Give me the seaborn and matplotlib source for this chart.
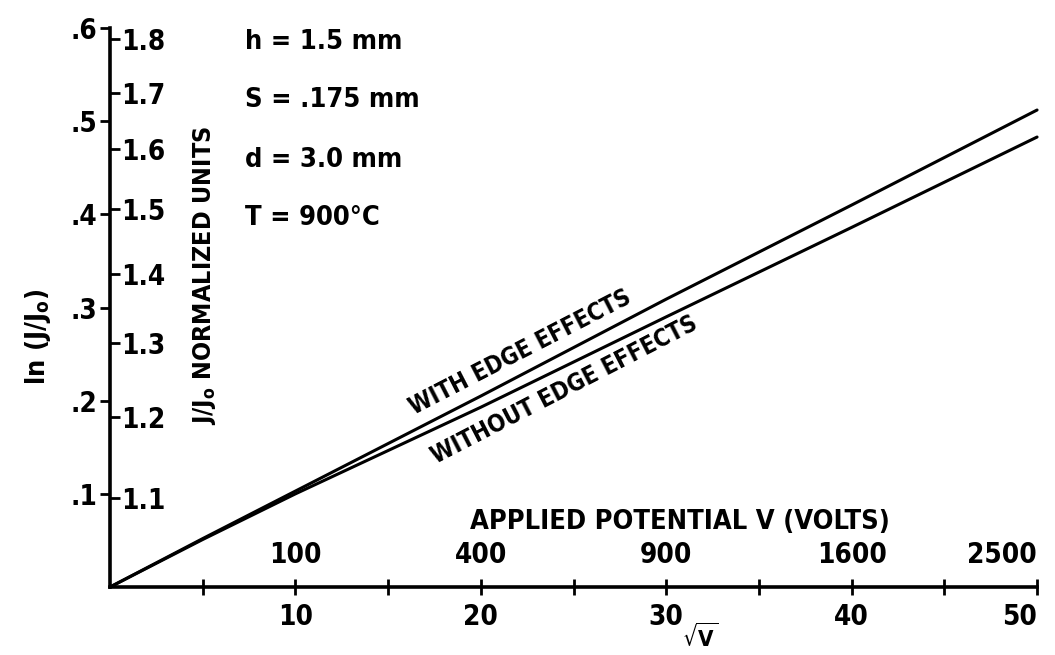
import numpy as np
import pandas as pd
import seaborn as sns
import matplotlib.pyplot as plt
from matplotlib import rcParams

# values
sqrt_v = [0, 5, 10, 20, 30, 40, 50]
with_edge = [0, 0.052, 0.103, 0.205, 0.309, 0.410, 0.512]
without_edge = [0, 0.051, 0.100, 0.193, 0.290, 0.386, 0.483]

ln_ticks = [0.1, 0.2, 0.3, 0.4, 0.5, 0.6]
ln_labels = ['.1', '.2', '.3', '.4', '.5', '.6']
norm_ticks = [1.1, 1.2, 1.3, 1.4, 1.5, 1.6, 1.7, 1.8]
volt_ticks = [100, 400, 900, 1600, 2500]
params = ['h = 1.5 mm', 'S = .175 mm', 'd = 3.0 mm', 'T = 900°C']

sns.set_theme(style='white')
rcParams['font.family'] = ['DejaVu Sans']
rcParams['font.stretch'] = 'condensed'
rcParams['font.weight'] = 'bold'
rcParams['axes.labelweight'] = 'bold'
rcParams['text.color'] = 'black'
rcParams['axes.labelcolor'] = 'black'
rcParams['xtick.color'] = 'black'
rcParams['ytick.color'] = 'black'
rcParams['mathtext.fontset'] = 'dejavusans'

df = pd.DataFrame({
    'sqrtV': sqrt_v * 2,
    'lnJ': with_edge + without_edge,
    'case': ['with'] * len(sqrt_v) + ['without'] * len(sqrt_v),
})

fig = plt.figure(figsize=(10.55, 6.55), dpi=100)
ax = fig.add_axes([0.1043, 0.1038, 0.8787, 0.8534])

sns.lineplot(data=df, x='sqrtV', y='lnJ', hue='case', palette=['black', 'black'],
             legend=False, linewidth=2.2, ax=ax, clip_on=False)

ax.set_xlim(0, 50)
ax.set_ylim(0, 0.6)
for s in ['top', 'right']:
    ax.spines[s].set_visible(False)
for s in ['left', 'bottom']:
    ax.spines[s].set_linewidth(2.6)
    ax.spines[s].set_color('black')

fs = 19.5
tfs = 20

# x axis: sqrt(V)
ax.set_xticks([10, 20, 30, 40, 50])
ax.set_xticks([5, 15, 25, 35, 45], minor=True)
ax.tick_params(axis='x', which='both', direction='inout', length=11, width=2,
               bottom=True, labelsize=tfs, pad=6)
ax.get_xticklabels()[-1].set_ha('right')
ax.set_xlabel(r'$\sqrt{\mathregular{V}}$', fontsize=16)
ax.xaxis.set_label_coords(0.636, -0.064)

# ln(J/Jo) scale, ticks to the left
ax.set_yticks(ln_ticks)
ax.set_yticklabels(ln_labels)
ax.tick_params(axis='y', direction='out', length=7, width=2,
               left=True, labelsize=tfs, pad=2)
ax.set_ylabel('ln (J/J$_\\mathregular{o}$)', fontsize=fs)
ax.yaxis.set_label_coords(-0.062, 0.447)

# J/Jo scale on the same spine, ticks to the right
sec_y = ax.secondary_yaxis(0, functions=(np.exp, np.log))
sec_y.set_alignment('right')
sec_y.spines['right'].set_visible(False)
sec_y.set_yticks(norm_ticks)
sec_y.set_yticklabels([f'{t:.1f}' for t in norm_ticks])
sec_y.tick_params(axis='y', direction='out', length=7, width=2,
                  labelsize=tfs, pad=1)

# applied potential V labels above the axis
sec_x = ax.secondary_xaxis(0, functions=(lambda x: np.square(x),
                                         lambda v: np.sqrt(np.abs(v))))
sec_x.set_alignment('top')
sec_x.spines['top'].set_visible(False)
sec_x.set_xticks(volt_ticks)
sec_x.set_xticklabels([str(v) for v in volt_ticks])
sec_x.tick_params(axis='x', length=0, labelsize=tfs, pad=13)
sec_x.get_xticklabels()[-1].set_ha('right')

ax.text(0.615, 0.116, 'APPLIED POTENTIAL V (VOLTS)', transform=ax.transAxes,
        ha='center', va='center', fontsize=fs)
ax.text(0.102, 0.558, 'J/J$_\\mathregular{o}$ NORMALIZED UNITS', transform=ax.transAxes,
        ha='center', va='center', rotation=90, fontsize=18)

for txt, yy in zip(params, [0.975, 0.871, 0.764, 0.66]):
    ax.text(0.146, yy, txt, transform=ax.transAxes, ha='left', va='center', fontsize=fs)

ax.text(22.1, 0.252, 'WITH EDGE EFFECTS', rotation=27.3, rotation_mode='anchor',
        ha='center', va='center', fontsize=17)
ax.text(24.5, 0.212, 'WITHOUT EDGE EFFECTS', rotation=27.3, rotation_mode='anchor',
        ha='center', va='center', fontsize=17)

fig.savefig('out.png', dpi=100, facecolor='white')
